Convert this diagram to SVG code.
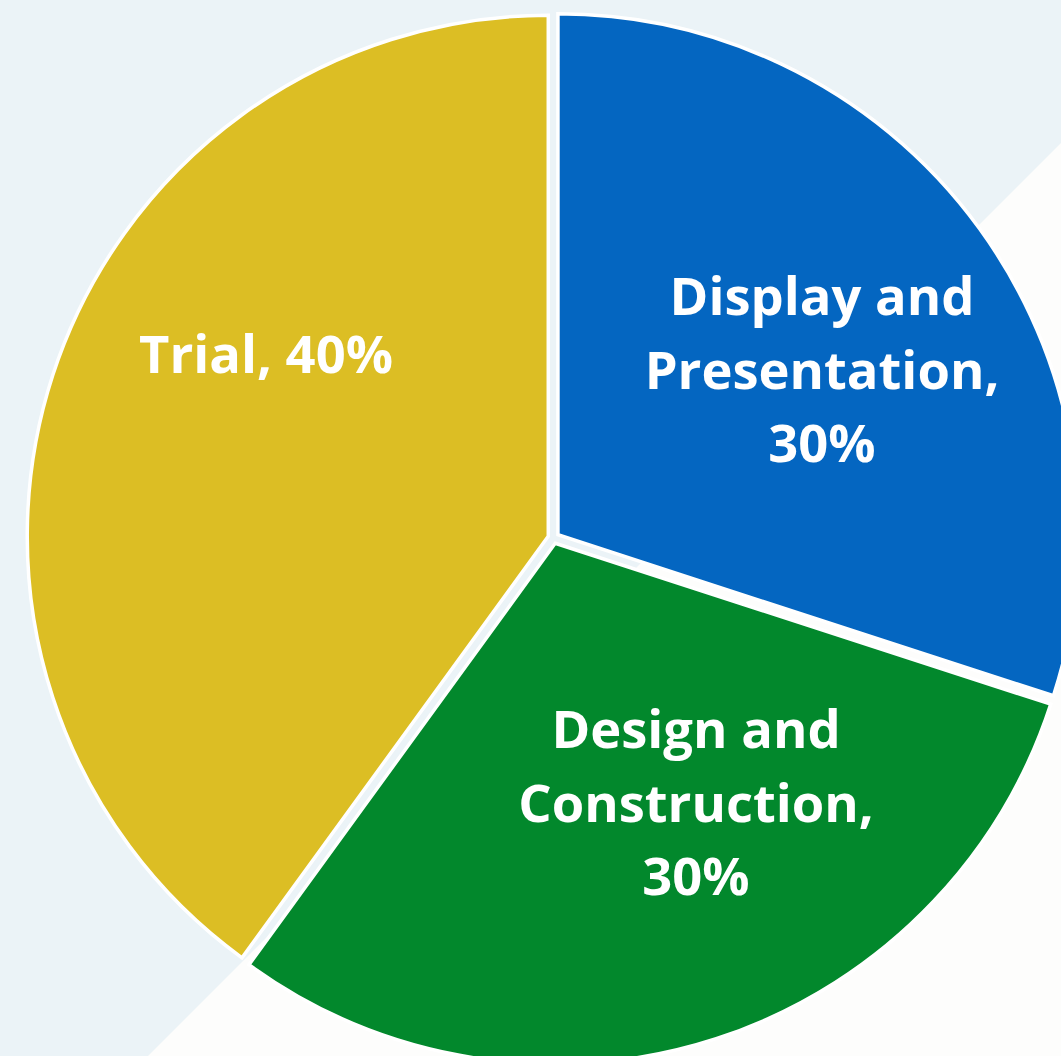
<svg xmlns="http://www.w3.org/2000/svg" width="1061" height="1056" viewBox="0 0 1061 1056">
<style>
.slice{stroke:#ffffff;stroke-width:3.5;stroke-linejoin:miter}
.lbl{font-family:"Open Sans","Liberation Sans",sans-serif;font-weight:700;font-size:52.5px;fill:#ffffff;text-anchor:middle}
</style>
<rect x="0" y="0" width="1061" height="1056" fill="#EBF3F7"/>
<polygon points="1061,143 1061,1056 148,1056" fill="#FDFDFC"/>
<g id="trial">
<path class="slice" fill="#DCBE24" d="M548.27,536.3 L548.27,15.3 A521,521 0 0 0 242.0,957.8 Z"/>
<text class="lbl" x="266" y="373">Trial, 40%</text>
</g>
<g id="display">
<path class="slice" fill="#0466C1" d="M557.95,534.77 L557.95,13.77 A521,521 0 0 1 1053.45,695.77 Z"/>
<text class="lbl" x="822" y="315">Display and</text>
<text class="lbl" x="822" y="389">Presentation,</text>
<text class="lbl" x="822" y="462">30%</text>
</g>
<g id="design">
<path class="slice" fill="#02882C" d="M555.2,543.23 L1050.7,704.2 A521,521 0 0 1 248.96,964.7 Z"/>
<text class="lbl" x="696" y="748">Design and</text>
<text class="lbl" x="696" y="822">Construction,</text>
<text class="lbl" x="696" y="895">30%</text>
</g>
<g id="connectors"></g>
</svg>
